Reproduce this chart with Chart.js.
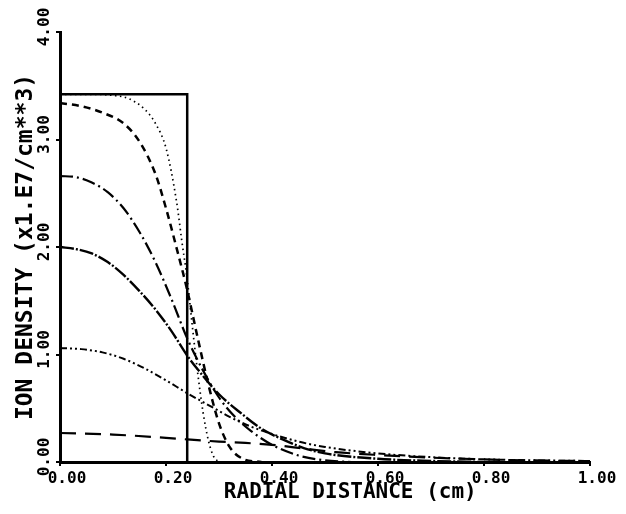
<!DOCTYPE html>
<html>
<head>
<meta charset="utf-8">
<script src="https://cdn.jsdelivr.net/npm/chart.js@4.4.0/dist/chart.umd.min.js"></script>
<style>
  body { margin: 0; background: #fff; }
  #grafico { display: block; }
</style>
</head>
<body>
<canvas id="grafico" width="626" height="514"></canvas>
<script>
// valori (x in cm, y in 1.E7/cm**3)
var stepX = [0, 0.24, 0.24];
var stepY = [3.42, 3.42, 0];

var dotX = [0, 0.06, 0.10, 0.13, 0.16, 0.18, 0.20, 0.22, 0.23, 0.24, 0.25, 0.26, 0.27, 0.28, 0.29, 0.30];
var dotY = [3.42, 3.42, 3.41, 3.38, 3.28, 3.15, 2.92, 2.42, 2.05, 1.7, 1.25, 0.82, 0.46, 0.2, 0.05, 0];

var dashX = [0, 0.04, 0.08, 0.12, 0.15, 0.18, 0.20, 0.22, 0.24, 0.26, 0.28, 0.30, 0.32, 0.345, 0.38];
var dashY = [3.34, 3.31, 3.25, 3.15, 2.98, 2.68, 2.36, 1.99, 1.6, 1.15, 0.72, 0.36, 0.14, 0.03, 0];

var aX = [0, 0.03, 0.06, 0.09, 0.12, 0.15, 0.18, 0.21, 0.24, 0.27, 0.30, 0.33, 0.36, 0.40, 0.45, 0.50, 0.55];
var aY = [2.66, 2.65, 2.6, 2.51, 2.36, 2.14, 1.86, 1.52, 1.15, 0.85, 0.6, 0.42, 0.29, 0.16, 0.06, 0.015, 0];

var bX = [0, 0.03, 0.06, 0.09, 0.12, 0.15, 0.18, 0.21, 0.24, 0.27, 0.30, 0.34, 0.38, 0.42, 0.46, 0.50, 0.60, 0.70, 0.80];
var bY = [2.0, 1.98, 1.94, 1.86, 1.74, 1.59, 1.42, 1.22, 0.99, 0.8, 0.63, 0.46, 0.31, 0.21, 0.13, 0.08, 0.03, 0.01, 0];

var cX = [0, 0.04, 0.08, 0.12, 0.16, 0.20, 0.24, 0.28, 0.32, 0.36, 0.40, 0.45, 0.50, 0.60, 0.70, 0.80, 0.90, 1.0];
var cY = [1.06, 1.05, 1.02, 0.96, 0.87, 0.76, 0.64, 0.53, 0.42, 0.33, 0.26, 0.19, 0.14, 0.08, 0.045, 0.025, 0.015, 0.01];

var dX = [0, 0.10, 0.20, 0.24, 0.30, 0.34, 0.40, 0.46, 0.52, 0.60, 0.68, 0.76, 0.85, 1.0];
var dY = [0.27, 0.255, 0.225, 0.21, 0.19, 0.18, 0.16, 0.125, 0.092, 0.065, 0.045, 0.03, 0.018, 0.008];

var xTicks = [0, 0.2, 0.4, 0.6, 0.8, 1.0];
var yTicks = [0, 1, 2, 3, 4];

function punti(xs, ys) {
  var out = [];
  for (var i = 0; i < xs.length; i++) out.push({x: xs[i], y: ys[i]});
  return out;
}

function serie(xs, ys, dash, w, smooth) {
  return {
    data: punti(xs, ys),
    showLine: true,
    borderColor: '#000',
    backgroundColor: '#000',
    borderWidth: w,
    borderDash: dash,
    pointRadius: 0,
    tension: smooth ? 0.4 : 0,
    cubicInterpolationMode: smooth ? 'monotone' : 'default'
  };
}

var font = 'DejaVu Sans Mono';

var ctx = document.getElementById('grafico');
var chart = new Chart(ctx, {
  type: 'scatter',
  data: {
    datasets: [
      serie(stepX, stepY, [], 2.5, false),
      serie(dotX, dotY, [1.5, 3.5], 1.7, true),
      serie(dashX, dashY, [7, 5], 2.5, true),
      serie(aX, aY, [13, 4, 2, 4], 2.2, true),
      serie(bX, bY, [14, 2, 2, 2], 2.4, true),
      serie(cX, cY, [7, 3, 2, 3, 2, 3], 2, true),
      serie(dX, dY, [16, 9], 2.2, true)
    ]
  },
  options: {
    responsive: false,
    animation: false,
    devicePixelRatio: 1,
    layout: { padding: { top: 32, right: 36, left: 0, bottom: 0 } },
    plugins: { legend: { display: false }, tooltip: { enabled: false } },
    scales: {
      x: {
        type: 'linear',
        min: 0, max: 1,
        afterBuildTicks: function(s) { s.ticks = xTicks.map(function(v) { return {value: v}; }); },
        afterFit: function(s) { s.height = 52; },
        border: { display: true, color: '#000', width: 3 },
        grid: { drawOnChartArea: false, drawTicks: true, tickLength: 4, color: '#000', lineWidth: 2 },
        ticks: {
          color: '#000', padding: 3, labelOffset: 7, maxRotation: 0,
          font: { family: font, size: 16, weight: 'bold' },
          callback: function(v) { return v.toFixed(2); }
        },
        title: {
          display: true, text: '    RADIAL DISTANCE (cm)', color: '#000',
          font: { family: font, size: 21, weight: 'bold' },
          padding: { top: 0, bottom: 9 }
        }
      },
      y: {
        type: 'linear',
        min: 0, max: 4,
        afterBuildTicks: function(s) { s.ticks = yTicks.map(function(v) { return {value: v}; }); },
        afterFit: function(s) { s.width = 60; },
        border: { display: true, color: '#000', width: 3 },
        grid: { drawOnChartArea: false, drawTicks: true, tickLength: 4, color: '#000', lineWidth: 2 },
        ticks: {
          color: '#000', padding: -8, labelOffset: -5,
          minRotation: 90, maxRotation: 90, crossAlign: 'center',
          font: { family: font, size: 16, weight: 'bold' },
          callback: function(v) { return v.toFixed(2); }
        },
        title: {
          display: true, text: 'ION DENSITY (x1.E7/cm**3)', color: '#000',
          font: { family: font, size: 23, weight: 'bold' },
          padding: { top: 12, bottom: 0 }
        }
      }
    }
  }
});
</script>
</body>
</html>
